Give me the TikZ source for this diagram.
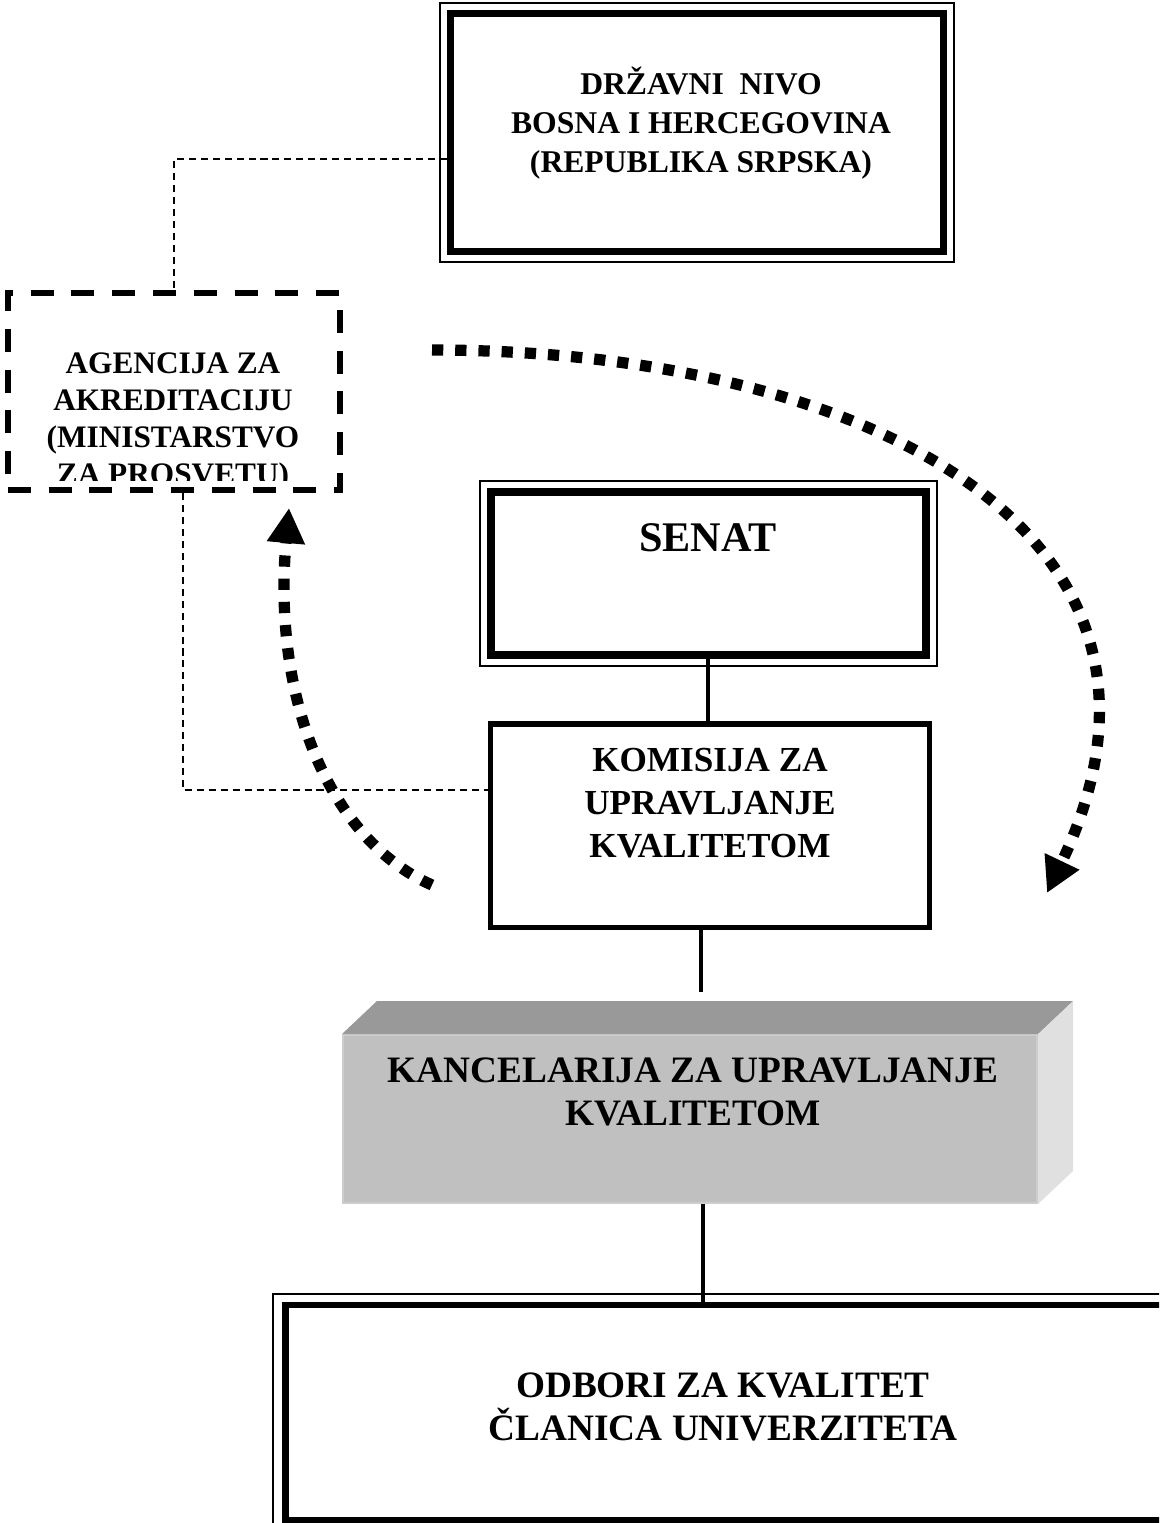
\documentclass[tikz,border=0pt]{standalone}
\usepackage{fontspec}
\setmainfont{Liberation Serif}
\usetikzlibrary{arrows.meta}

\definecolor{gornja}{HTML}{999999}
\definecolor{prednja}{HTML}{C0C0C0}
\definecolor{bocna}{HTML}{E0E0E0}

\tikzset{
    okvir/.style={draw, line width=1.7pt, inner sep=0pt},
    tanka/.style={line width=0.55pt},
    tekst/.style={align=center, inner sep=0pt, anchor=base},
    veza/.style={line width=1pt},
    isprekidana/.style={line width=0.4pt, dash pattern=on 2pt off 1.4pt},
    tackasta/.style={line width=3.2pt, dash pattern=on 3.2pt off 3.4pt, -{Triangle[length=3.5mm, width=3.6mm]}}
}

\begin{document}
\begin{tikzpicture}[x=0.01cm, y=-0.01cm]
    \useasboundingbox (0,0) rectangle (1159,1523);
    \clip (0,0) rectangle (1159,1523);

    % drzavni nivo
    \node[okvir, minimum width=4.94cm, minimum height=2.39cm] (drzava) at (697,132.5) {};
    \draw[tanka] ([shift={(-7,-7)}]drzava.north west) rectangle ([shift={(7,7)}]drzava.south east);
    \draw[tanka] ([shift={(6,6)}]drzava.north west) rectangle ([shift={(-6,-6)}]drzava.south east);
    \node[tekst, font=\fontsize{9}{11}\selectfont\bfseries] (drzava-t) at (701,172) {DRŽAVNI \ NIVO\\ BOSNA I HERCEGOVINA\\(REPUBLIKA SRPSKA)};

    % agencija
    \node[draw, line width=1.7pt, dash pattern=on 6.5pt off 5.1pt, minimum width=3.32cm, minimum height=1.97cm, inner sep=0pt] (agencija) at (174,391.5) {};
    \begin{scope}
        \clip (0,0) rectangle (1159,480);
        \node[tekst, font=\fontsize{8.9}{10.5}\selectfont\bfseries] (agencija-t) at (173,484) {AGENCIJA ZA\\AKREDITACIJU\\(MINISTARSTVO\\ZA PROSVETU)};
    \end{scope}

    % senat
    \node[okvir, minimum width=4.37cm, minimum height=1.65cm] (senat) at (708.5,573.5) {};
    \draw[tanka] ([shift={(-7,-7)}]senat.north west) rectangle ([shift={(7,7)}]senat.south east);
    \draw[tanka] ([shift={(7,7)}]senat.north west) rectangle ([shift={(-7,-7)}]senat.south east);
    \node[tekst, font=\fontsize{12}{14}\selectfont\bfseries] (senat-t) at (708,551) {SENAT};

    % komisija
    \node[draw, line width=1.45pt, minimum width=4.385cm, minimum height=2.03cm, inner sep=0pt] (komisija) at (710,825.5) {};
    \node[tekst, font=\fontsize{10}{12.1}\selectfont\bfseries] (komisija-t) at (710,857) {KOMISIJA ZA\\UPRAVLJANJE\\KVALITETOM};

    % kancelarija
    \node[fill=prednja, draw=prednja!80!white, line width=0.5pt, minimum width=6.94cm, minimum height=1.68cm, inner sep=0pt] (kancelarija) at (690,1119) {};
    \fill[gornja] (kancelarija.north west) -- ++(35,-33) -- ([shift={(35,-33)}]kancelarija.north east) -- (kancelarija.north east) -- cycle;
    \fill[bocna] (kancelarija.north east) -- ++(35,-33) -- ([shift={(35,-33)}]kancelarija.south east) -- (kancelarija.south east) -- cycle;
    \node[tekst, font=\fontsize{10.6}{12.2}\selectfont\bfseries] (kancelarija-t) at (693,1125) {KANCELARIJA ZA UPRAVLJANJE\\KVALITETOM};

    % odbori
    \node[okvir, line width=1.9pt, minimum width=8.89cm, minimum height=2.15cm] (odbori) at (730.5,1412.5) {};
    \draw[tanka] ([shift={(-9,-8)}]odbori.north west) rectangle ([shift={(9,8)}]odbori.south east);
    \node[tekst, font=\fontsize{10.6}{12.2}\selectfont\bfseries] (odbori-t) at (723,1440) {ODBORI ZA KVALITET\\ČLANICA UNIVERZITETA};

    % veze
    \draw[isprekidana] ([shift={(0,26.5)}]drzava.west) -| (agencija.north);
    \draw[isprekidana] ([shift={(9,0)}]agencija.south) |- ([shift={(0,-35.5)}]komisija.west);
    \draw[veza] ([shift={(-2,0)}]komisija.north) -- ([shift={(-2,0)}]komisija.north |- senat.south);
    \coordinate (kanc-vrh) at ([shift={(11,-42)}]kancelarija.north);
    \draw[veza] (komisija.south -| kanc-vrh) -- (kanc-vrh);
    \draw[veza] ([shift={(13,0)}]kancelarija.south) -- ([shift={(13,0)}]kancelarija.south |- odbori.north);

    % strelice
    \coordinate (desna-poc) at (432,350);
    \coordinate (desna-kraj) at (1047,893);
    \draw[tackasta] (desna-poc) .. controls (860,350) and (1220,530) .. (desna-kraj);
    \coordinate (lijeva-poc) at (432,885);
    \coordinate (lijeva-kraj) at (289,508);
    \draw[tackasta] (lijeva-poc) .. controls (330,840) and (272,700) .. (lijeva-kraj);
\end{tikzpicture}
\end{document}
